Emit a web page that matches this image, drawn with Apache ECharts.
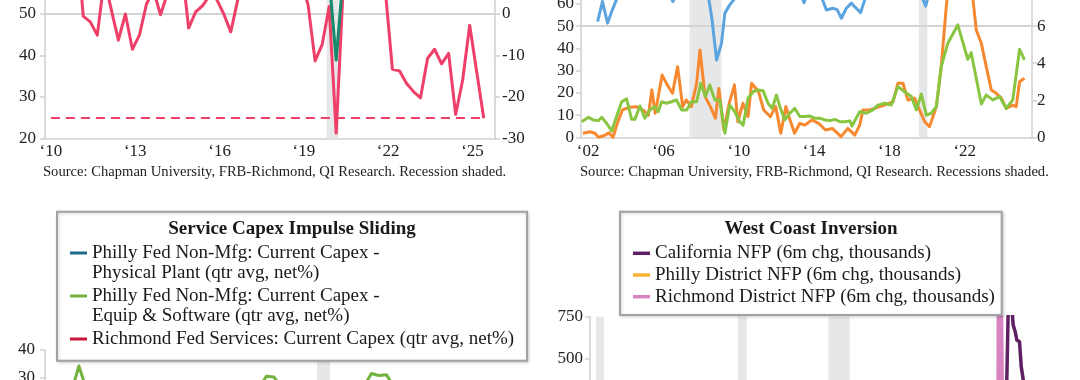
<!DOCTYPE html>
<html>
<head>
<meta charset="utf-8">
<script src="https://cdn.jsdelivr.net/npm/echarts@6/dist/echarts.min.js"></script>
<style>
html,body{margin:0;padding:0;background:#fff;}
#c{width:1080px;height:380px;}
</style>
</head>
<body>
<div id="c"></div>
<script>
// ================= DATA (decimal-year dates) =================
// --- Top-left panel ---
const tlYearTicks = [2010, 2013, 2016, 2019, 2022, 2025];
const richmondSvcDates = [2010.90, 2011.15, 2011.40, 2011.65, 2011.90, 2012.15, 2012.40, 2012.65, 2012.90, 2013.15,
  2013.40, 2013.65, 2013.90, 2014.15, 2014.40, 2014.65, 2014.90, 2015.15, 2015.40, 2015.65,
  2015.90, 2016.15, 2016.40, 2016.65, 2016.90, 2017.15, 2017.40, 2017.65, 2017.90, 2018.15,
  2018.40, 2018.65, 2018.90, 2019.15, 2019.40, 2019.65, 2019.90, 2020.15, 2020.40, 2020.65,
  2020.90, 2021.15, 2021.40, 2021.65, 2021.90, 2022.15, 2022.40, 2022.65, 2022.90, 2023.15,
  2023.40, 2023.65, 2023.90, 2024.15, 2024.40, 2024.65, 2024.90, 2025.15, 2025.40];
const richmondSvcValues = [20, -0.5, -1.9, -5.1, 8.4, 1, -6.3, 0, -8.5, -5.1,
  2.4, 5.7, -0.2, 5, 8, 12, -3.4, 0.5, 2, 4.5,
  3.5, 0, -4.3, 3.5, 10, 12, 11, 14, 13, 16,
  15, 12, 8, 2.2, -11.3, -7.4, 1.8, -28.7, 6.5, 15,
  20, 22, 25, 18, 5.5, -13.3, -13.7, -16.7, -18.7, -20.2,
  -10.7, -8.5, -12, -9.5, -24.2, -15.9, -2.7, -14, -25.1];
const chapmanDates = [2019.40, 2019.65, 2019.90, 2020.15, 2020.40, 2020.65];
const chapmanValues = [62, 60, 58.6, 38.9, 59.6, 61];
const latestLevel = -25.1;
const latestSpan = [2010.0, 2025.45];
const tlRecessions = [[2019.81, 2020.23]];

// --- Top-right panel ---
const trYearTicks = [2002, 2006, 2010, 2014, 2018, 2022];
const blueDates = [2002.50, 2002.76, 2003.03, 2003.26, 2003.53, 2003.80, 2006.25, 2006.50, 2006.75, 2008.30,
  2008.57, 2008.82, 2009.08, 2009.26, 2009.52, 2009.79, 2010.05, 2013.20, 2013.46, 2013.72,
  2014.40, 2014.65, 2015.00, 2015.22, 2015.45, 2015.71, 2015.98, 2016.15, 2016.47, 2016.73,
  2017.00, 2019.70, 2019.92, 2020.15, 2025.40];
const blueValues = [52.1, 61.1, 51.4, 56.8, 62.5, 66, 66, 61.1, 66, 68,
  53.5, 34.8, 42.3, 55.9, 59.6, 62.5, 66, 66, 60.6, 66,
  63, 57.3, 58.1, 57.5, 53.6, 58.1, 60.4, 58.8, 56.1, 63,
  66, 64, 59.1, 66, 68];
const orangeDates = [2001.72, 2002.10, 2002.36, 2002.55, 2002.91, 2003.10, 2003.32, 2003.55, 2003.82, 2004.19,
  2004.56, 2004.92, 2005.20, 2005.38, 2005.56, 2005.93, 2006.20, 2006.48, 2006.75, 2007.02,
  2007.21, 2007.48, 2007.76, 2007.94, 2008.21, 2008.49, 2008.76, 2008.94, 2009.21, 2009.49,
  2009.77, 2009.95, 2010.22, 2010.49, 2010.68, 2011.05, 2011.32, 2011.68, 2011.96, 2012.23,
  2012.50, 2012.69, 2012.96, 2013.24, 2013.51, 2013.87, 2014.24, 2014.60, 2014.97, 2015.43,
  2015.79, 2016.16, 2016.42, 2016.59, 2016.95, 2017.37, 2017.74, 2018.19, 2018.45, 2018.72,
  2018.98, 2019.34, 2019.60, 2019.87, 2020.13, 2020.49, 2020.75, 2021.03, 2021.35, 2021.72,
  2022.09, 2022.36, 2022.61, 2022.88, 2023.14, 2023.41, 2023.67, 2023.94, 2024.20, 2024.55,
  2024.73, 2024.91, 2025.17];
const orangeValues = [1.8, 2.5, 1.8, 0, 1, 2, 0, 6.3, 12.3, 13.5,
  13.8, 12.3, 10, 21.3, 10.8, 28, 23.6, 19.8, 31.8, 13.8,
  16.8, 13.8, 24.3, 39.3, 18.3, 13.8, 8.6, 22, 3.3, 15.3,
  23.6, 7, 15.3, 9.3, 24.3, 20.5, 12.3, 9.3, 13.8, 1.8,
  13.8, 8.6, 1.8, 6.3, 5.5, 7.8, 6.3, 3.3, 4, 0.3,
  4, 1, 5.5, 12.3, 12.3, 13.5, 14.5, 16, 24.3, 24.3,
  16.8, 17.6, 12.3, 7, 4.8, 13.8, 31.8, 60, 82, 90,
  82, 68, 48.3, 42.3, 31.8, 21.3, 19.8, 17.6, 13, 14.5,
  13.8, 25, 26.6];
const greenDates = [2001.66, 2002.01, 2002.27, 2002.54, 2002.72, 2002.98, 2003.25, 2003.51, 2003.78, 2004.04,
  2004.31, 2004.48, 2004.75, 2005.01, 2005.28, 2005.54, 2005.72, 2005.90, 2006.16, 2006.43,
  2006.69, 2006.96, 2007.23, 2007.49, 2007.76, 2007.98, 2008.23, 2008.46, 2008.73, 2008.99,
  2009.26, 2009.52, 2009.79, 2010.05, 2010.23, 2010.49, 2010.76, 2011.02, 2011.29, 2011.55,
  2011.77, 2012.00, 2012.18, 2012.44, 2012.71, 2012.97, 2013.24, 2013.50, 2013.77, 2014.04,
  2014.30, 2014.57, 2014.84, 2015.10, 2015.37, 2015.63, 2015.90, 2016.01, 2016.42, 2016.77,
  2017.12, 2017.39, 2017.75, 2018.10, 2018.45, 2018.81, 2019.16, 2019.43, 2019.69, 2019.96,
  2020.22, 2020.49, 2020.75, 2021.10, 2021.63, 2022.16, 2022.34, 2022.88, 2023.14, 2023.49,
  2023.85, 2024.20, 2024.55, 2024.91, 2025.17];
const greenValues = [0.84, 1.08, 0.94, 0.90, 1.08, 0.76, 0.34, 1.12, 1.92, 2.08,
  0.97, 0.97, 1.69, 1.03, 1.48, 1.66, 1.38, 1.92, 1.84, 1.92,
  2.02, 1.48, 1.48, 1.92, 1.92, 2.92, 2.20, 2.83, 2.02, 2.02,
  0.22, 1.74, 1.38, 0.84, 0.66, 2.11, 2.46, 2.56, 2.52, 1.84,
  1.56, 2.28, 1.66, 0.94, 1.30, 1.56, 1.12, 1.12, 1.15, 1.03,
  1.03, 0.94, 0.90, 0.97, 0.84, 0.84, 0.88, 0.61, 1.38, 1.30,
  1.48, 1.74, 1.84, 1.74, 2.74, 2.46, 2.20, 1.48, 2.34, 1.20,
  1.30, 1.66, 3.82, 5.08, 6.07, 4.21, 4.57, 1.80, 2.28, 2.02,
  2.20, 1.56, 2.02, 4.75, 4.18];
const trRecessions = [[2007.38, 2009.08], [2019.56, 2020.01]];

// --- Bottom-left panel: Service Capex Impulse Sliding ---
const plantDates = [];
const plantValues = [];
const equipDates = [2011.00, 2011.38, 2011.63, 2011.88, 2012.13, 2012.38, 2012.63, 2013.00, 2014.00, 2015.00,
  2016.00, 2017.00, 2017.88, 2018.13, 2018.38, 2018.63, 2018.88, 2019.38, 2019.88, 2020.13,
  2020.38, 2020.63, 2021.13, 2021.38, 2021.63, 2021.88, 2022.13, 2022.38, 2022.63, 2023.13,
  2024.00, 2025.00, 2025.50];
const equipValues = [22, 24, 21, 25, 34.3, 26, 22, 20, 22, 19,
  21, 23, 25, 26.5, 30.6, 30.4, 26.5, 22, 18, 5,
  -5, 12, 22, 25, 27, 31.6, 30.9, 31.2, 27, 22,
  18, 15, 14];
const richCapexDates = [];
const richCapexValues = [];
const blRecessions = [[2020.07, 2020.50]];

// --- Bottom-right panel: West Coast Inversion ---
const caDates = [2020.75, 2021.17, 2021.33, 2021.50, 2021.62, 2021.70, 2021.85, 2021.97, 2022.17, 2022.30,
  2022.47, 2022.75, 2023.25, 2023.75, 2024.25, 2024.75, 2025.25];
const caValues = [-200, 150, 800, 850, 780, 700, 660, 610, 600, 450,
  360, 300, 220, 150, 100, 60, 30];
const phillyNfpDates = [];
const phillyNfpValues = [];
const richNfpDates = [2019.90, 2020.50, 2020.58, 2020.67, 2020.75, 2020.83, 2020.92, 2021.50, 2022.00, 2023.00];
const richNfpValues = [60, -1200, 1000, 300, 1000, 900, 200, 150, 100, 60];
const brRecessions = [[1990.58, 1991.17], [2001.17, 2001.83], [2007.92, 2009.50]];

// Legend / text content
const NAME_PLANT = 'Philly Fed Non-Mfg: Current Capex -\nPhysical Plant (qtr avg, net%)';
const NAME_EQUIP = 'Philly Fed Non-Mfg: Current Capex -\nEquip & Software (qtr avg, net%)';
const NAME_RICH = 'Richmond Fed Services: Current Capex (qtr avg, net%)';
const NAME_CA = 'California NFP (6m chg, thousands)';
const NAME_PHL = 'Philly District NFP (6m chg, thousands)';
const NAME_RNFP = 'Richmond District NFP (6m chg, thousands)';

// ================= RENDER =================
const FONT = '"Liberation Serif", "Times New Roman", serif';
const AX = '#cfcfcf';
const SHADE = '#e6e7e8';
const RED = '#ee3f69', TEAL = '#14896b', BLUE = '#5ba4df', ORANGE = '#f6892f', GREEN = '#88c541';

function pairs(d, v) { return d.map((t, i) => [t, v[i]]); }
function recession(r) { return r.map(p => [{ xAxis: p[0] }, { xAxis: p[1] }]); }
function yearLabel(v) { return '\u2018' + String(Math.round(v)).slice(2); }
function lbl(extra) { return Object.assign({ color: '#222', fontFamily: FONT, fontSize: 17 }, extra); }
function yAx(grid, pos, min, max, interval, margin, showMax) {
  return {
    gridIndex: grid, type: 'value', position: pos, min: min, max: max, interval: interval,
    axisLine: { show: true, onZero: false, lineStyle: { color: AX, width: 1.5 } },
    axisTick: { show: true, length: 5, lineStyle: { color: AX, width: 1.5 } },
    splitLine: { show: false },
    axisLabel: lbl({ margin: margin, showMaxLabel: !!showMax, hideOverlap: false })
  };
}
function xAx(grid, min, max, ticks, margin) {
  return {
    gridIndex: grid, type: 'value', min: min, max: max,
    axisLine: { show: true, onZero: false, lineStyle: { color: AX, width: 1.5 } },
    axisTick: { show: false }, splitLine: { show: false },
    axisLabel: ticks ? lbl({ customValues: ticks, formatter: yearLabel, margin: margin }) : { show: false }
  };
}
function line(name, xi, yi, data, color, width, z, extra) {
  return Object.assign({
    name: name, type: 'line', xAxisIndex: xi, yAxisIndex: yi, data: data,
    showSymbol: false, symbol: 'none', z: z,
    lineStyle: { color: color, width: width, join: 'round' }, itemStyle: { color: color }
  }, extra || {});
}
function grid(left, top, width, height) {
  return { left: left, top: top, width: width, height: height, containLabel: false, outerBoundsMode: 'none' };
}
const ICON2 = 'path://M0,0M0,8.75L17,8.75L17,11.75L0,11.75ZM0,41';

const chart = echarts.init(document.getElementById('c'));
const option = {
  animation: false,
  backgroundColor: '#ffffff',
  grid: [
    grid(45, 0, 450, 138.5),
    grid(581, 0, 451, 137.3),
    grid(45, 350, 450, 168),
    grid(590, 316.7, 450, 374.4)
  ],
  xAxis: [
    xAx(0, 2009.79, 2025.80, tlYearTicks, 5),
    xAx(1, 2001.62, 2025.57, trYearTicks, 6),
    xAx(2, 2011.0, 2026.0, null),
    xAx(3, 1990.13, 2023.70, null)
  ],
  yAxis: [
    yAx(0, 'left', 20, 53.37, 10, 9, false),
    yAx(0, 'right', -30, 3.37, 10, 7, false),
    yAx(1, 'left', 0, 61.8, 10, 7, false),
    yAx(1, 'right', 0, 7.416, 2, 5, false),
    yAx(2, 'left', -20, 40, 10, 10, true),
    yAx(3, 'left', -1500, 750, 250, 7, true)
  ],
  legend: [
    {
      orient: 'vertical', left: 70, top: 242.75, padding: 0, itemGap: 2,
      itemWidth: 17, itemHeight: 41, selectedMode: false, z: 200,
      itemStyle: { borderWidth: 0 },
      data: [{ name: NAME_PLANT, icon: ICON2 }, { name: NAME_EQUIP, icon: ICON2 }, { name: NAME_RICH, icon: ICON2 }],
      formatter: function (n) { return n === NAME_RICH ? n + '\n ' : n; },
      textStyle: { fontFamily: FONT, fontSize: 19, color: '#1a1a1a', lineHeight: 20.5 }
    },
    {
      orient: 'vertical', left: 633, top: 242.45, padding: 0, itemGap: 0,
      itemWidth: 17, itemHeight: 3.5, selectedMode: false, z: 200, icon: 'rect',
      itemStyle: { borderWidth: 0 },
      data: [NAME_CA, NAME_PHL, NAME_RNFP],
      textStyle: { fontFamily: FONT, fontSize: 19, color: '#1a1a1a', lineHeight: 21.7 }
    }
  ],
  graphic: [
    { type: 'rect', z: 100, shape: { x: 57, y: 211.7, width: 470, height: 149 },
      style: { fill: '#ffffff', stroke: '#a2a2a2', lineWidth: 2, shadowBlur: 3, shadowOffsetX: 1, shadowOffsetY: 1, shadowColor: 'rgba(0,0,0,0.18)' } },
    { type: 'rect', z: 100, shape: { x: 620, y: 211.7, width: 381.7, height: 103.3 },
      style: { fill: '#ffffff', stroke: '#a2a2a2', lineWidth: 2, shadowBlur: 3, shadowOffsetX: 1, shadowOffsetY: 1, shadowColor: 'rgba(0,0,0,0.18)' } },
    { type: 'text', z: 201, x: 292, y: 229.3,
      style: { text: 'Service Capex Impulse Sliding', fontFamily: FONT, fontSize: 19, fontWeight: 'bold', fill: '#1a1a1a', align: 'center', verticalAlign: 'middle' } },
    { type: 'text', z: 201, x: 811, y: 229.3,
      style: { text: 'West Coast Inversion', fontFamily: FONT, fontSize: 19, fontWeight: 'bold', fill: '#1a1a1a', align: 'center', verticalAlign: 'middle' } },
    { type: 'text', z: 201, x: 43, y: 172,
      style: { text: 'Source: Chapman University, FRB-Richmond, QI Research. Recession shaded.', fontFamily: FONT, fontSize: 14.6, fill: '#222', align: 'left', verticalAlign: 'middle' } },
    { type: 'text', z: 201, x: 580, y: 172,
      style: { text: 'Source: Chapman University, FRB-Richmond, QI Research. Recessions shaded.', fontFamily: FONT, fontSize: 14.6, fill: '#222', align: 'left', verticalAlign: 'middle' } }
  ],
  series: [
    // top-left
    line('Richmond Fed Services Capex', 0, 1, pairs(richmondSvcDates, richmondSvcValues), RED, 3, 3, {
      markArea: { silent: true, itemStyle: { color: SHADE }, data: recession(tlRecessions) },
      markLine: { silent: true, symbol: 'none', z: 1, label: { show: false },
        data: [
          { yAxis: 0, lineStyle: { color: '#d4d4d4', width: 2, type: 'solid' } },
          [{ coord: [latestSpan[0], latestLevel], lineStyle: { color: RED, width: 2, type: [9, 6] } },
           { coord: [latestSpan[1], latestLevel] }]
        ] }
    }),
    line('Chapman', 0, 0, pairs(chapmanDates, chapmanValues), TEAL, 3, 4),
    // top-right
    line('Blue', 1, 2, pairs(blueDates, blueValues), BLUE, 3, 3, {
      markArea: { silent: true, itemStyle: { color: SHADE }, data: recession(trRecessions) },
      markLine: { silent: true, symbol: 'none', z: 1, label: { show: false },
        data: [{ yAxis: 50, lineStyle: { color: '#d4d4d4', width: 2, type: 'solid' } }] }
    }),
    line('Orange', 1, 2, pairs(orangeDates, orangeValues), ORANGE, 3, 3),
    line('Green', 1, 3, pairs(greenDates, greenValues), GREEN, 3, 4),
    // bottom-left
    line(NAME_PLANT, 2, 4, pairs(plantDates, plantValues), '#1c6b8c', 3, 3),
    line(NAME_EQUIP, 2, 4, pairs(equipDates, equipValues), '#72b340', 3, 3, {
      markArea: { silent: true, itemStyle: { color: SHADE }, data: recession(blRecessions) }
    }),
    line(NAME_RICH, 2, 4, pairs(richCapexDates, richCapexValues), '#c8173b', 3, 3),
    // bottom-right
    line(NAME_CA, 3, 5, pairs(caDates, caValues), '#5e1f63', 3.5, 4, {
      markArea: { silent: true, itemStyle: { color: SHADE }, data: recession(brRecessions) }
    }),
    line(NAME_PHL, 3, 5, pairs(phillyNfpDates, phillyNfpValues), '#f6b334', 3, 3),
    line(NAME_RNFP, 3, 5, pairs(richNfpDates, richNfpValues), '#d883c2', 3, 3)
  ]
};
chart.setOption(option);
</script>
</body>
</html>
